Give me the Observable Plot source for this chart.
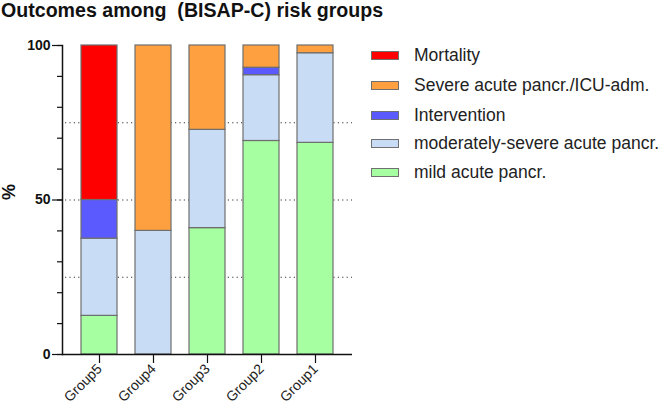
<!DOCTYPE html>
<html>
<head>
<meta charset="utf-8">
<script src="https://cdn.jsdelivr.net/npm/d3@7"></script>
<script src="https://cdn.jsdelivr.net/npm/@observablehq/plot@0.6"></script>
<style>
  body { margin: 0; background: #fff; font-family: "Liberation Sans", Arial, sans-serif; }
  #wrap { position: relative; width: 661px; height: 409px; overflow: hidden; }
  #title { position: absolute; left: 1px; top: -1px; font-size: 19.6px; font-weight: bold; white-space: pre; color: #111; }
  #chart { position: absolute; left: 0; top: 30px; }
  #legend { position: absolute; left: 371px; top: 0; }
  .row { position: absolute; left: 0; height: 22px; display: flex; align-items: center; white-space: nowrap; font-size: 17.5px; color: #222; }
  .sw { width: 26px; height: 7px; border: 1px solid #707070; margin-right: 15px; }
</style>
</head>
<body>
<div id="wrap">
  <div id="title">Outcomes among  (BISAP-C) risk groups</div>
  <div id="chart"></div>
  <div id="legend"></div>
</div>
<script>
const groups = ["Group5", "Group4", "Group3", "Group2", "Group1"];
const seriesNames = ["mild acute pancr.", "moderately-severe acute pancr.", "Intervention", "Severe acute pancr./ICU-adm.", "Mortality"];
const seriesColors = ["#a6ffa0", "#c8dcf5", "#5a5aff", "#ffa040", "#ff0000"];
const mild = [12.5, 0, 40.9, 69.1, 68.5];
const moderate = [25, 40, 31.8, 21.3, 29];
const intervention = [12.5, 0, 0, 2.4, 0];
const severe = [0, 60, 27.3, 7.2, 2.5];
const mortality = [50, 0, 0, 0, 0];
const yMajorTicks = [0, 50, 100];
const yMinorTicks = [0, 10, 20, 30, 40, 50, 60, 70, 80, 90, 100];
const gridValues = [25, 50, 75];

const seriesValues = [mild, moderate, intervention, severe, mortality];
const rows = [];
seriesNames.forEach((s, i) => {
  groups.forEach((g, j) => {
    const v = seriesValues[i][j];
    if (v > 0) rows.push({group: g, series: s, value: v, order: i});
  });
});

const font = "'Liberation Sans', Arial, sans-serif";
const chart = Plot.plot({
  width: 661,
  height: 379,
  marginTop: 15,
  marginBottom: 55,
  marginLeft: 62,
  marginRight: 309,
  style: {fontFamily: font, background: "transparent", color: "#111"},
  x: {domain: groups, paddingInner: 0.338, paddingOuter: 0.334, label: null},
  y: {domain: [0, 100], label: null},
  color: {domain: seriesNames, range: seriesColors},
  marks: [
    Plot.ruleY(gridValues, {stroke: "#333", strokeWidth: 1, strokeDasharray: "1.2,3.2", insetLeft: 3}),
    Plot.barY(rows, Plot.stackY({
      x: "group", y: "value", fill: "series", order: seriesNames,
      stroke: "#6e6e6e", strokeWidth: 1.2
    })),
    Plot.axisY({ticks: yMinorTicks, tickSize: 5, tickFormat: () => "", stroke: "#111", strokeWidth: 1.2}),
    Plot.axisY({ticks: yMajorTicks, tickSize: 10, tickPadding: 2, fontSize: 14, fontWeight: "bold", fill: "#111", stroke: "#111", strokeWidth: 1.2}),
    Plot.axisX({tickSize: 9, tickRotate: -45, fontSize: 14, tickPadding: 3, fill: "#222", stroke: "#111", strokeWidth: 1.2}),
    Plot.frame({anchor: "left", stroke: "#111", strokeWidth: 1.5}),
    Plot.ruleY([0], {stroke: "#111", strokeWidth: 1.5}),
    Plot.text(["%"], {frameAnchor: "left", dx: -53, rotate: -90, fontSize: 18, fontWeight: "bold", fill: "#111"})
  ]
});
document.getElementById("chart").appendChild(chart);

const legendOrder = [4, 3, 2, 1, 0];
const legendTops = [55.7, 85, 115, 143, 172.7];
const leg = document.getElementById("legend");
legendOrder.forEach((i, k) => {
  const row = document.createElement("div");
  row.className = "row";
  row.style.top = (legendTops[k] - 11) + "px";
  const sw = document.createElement("div");
  sw.className = "sw";
  sw.style.background = seriesColors[i];
  const t = document.createElement("span");
  t.textContent = seriesNames[i];
  row.appendChild(sw);
  row.appendChild(t);
  leg.appendChild(row);
});
</script>
</body>
</html>
